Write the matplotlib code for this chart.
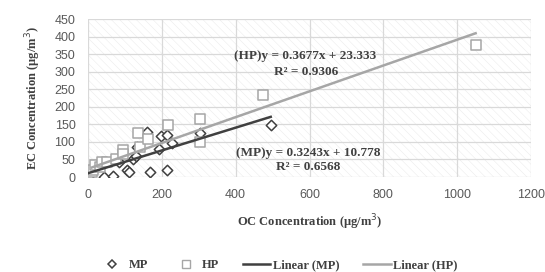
import numpy as np
import matplotlib
matplotlib.use('Agg')
import matplotlib.pyplot as plt
from matplotlib.lines import Line2D
from matplotlib.patches import Rectangle

# MP / HP scatter (OC vs EC, ug/m3)
mp_oc = [1, 43, 69, 105, 112, 85, 123, 130, 132, 159, 168, 191, 199, 213, 215, 227, 303, 495]
mp_ec = [0, 0, 2, 19, 14, 42, 52, 59, 86, 128, 14, 81, 116, 119, 19, 97, 124, 147]
hp_oc = [10, 14, 19, 33, 37, 51, 75, 96, 96, 136, 141, 163, 218, 303, 303, 473, 1050]
hp_ec = [14, 19, 33, 28, 43, 43, 50, 78, 66, 124, 86, 107, 147, 164, 100, 233, 375]

# trendline coefficients (slope, intercept, r2)
mp_fit = [0.3243, 10.778, 0.6568]
hp_fit = [0.3677, 23.333, 0.9306]

xticks = [0, 200, 400, 600, 800, 1000, 1200]
yticks = [0, 50, 100, 150, 200, 250, 300, 350, 400, 450]

dark = '#404040'
light = '#a6a6a6'
serif = ['Liberation Serif', 'DejaVu Serif']

plt.rcParams['hatch.linewidth'] = 0.3

fig = plt.figure(figsize=(5.45, 2.72), dpi=100)
ax = fig.add_axes([88/545, 1-177/272, (531-88)/545, (177-19)/272])

# hatched plot area
ax.add_patch(Rectangle((0, 0), 1, 1, transform=ax.transAxes, facecolor='white',
                       edgecolor='#e6e6e6', hatch='\\\\\\\\', linewidth=0, zorder=0))

ax.set_xlim(0, 1200)
ax.set_ylim(0, 450)
ax.set_xticks(xticks)
ax.set_yticks(yticks)
ax.grid(True, color='#d9d9d9', linewidth=0.9, zorder=1)
ax.set_axisbelow(True)
for s in ax.spines.values():
    s.set_visible(False)
ax.tick_params(length=0, labelsize=9, labelcolor='#595959')
ax.tick_params(axis='y', pad=9)
ax.tick_params(axis='x', pad=9)
for lab in ax.get_xticklabels() + ax.get_yticklabels():
    lab.set_family(['Liberation Sans', 'DejaVu Sans'])

ax.scatter(mp_oc, mp_ec, marker='D', s=28, facecolors='white', edgecolors=dark,
           linewidths=1.1, zorder=3)
ax.scatter(hp_oc, hp_ec, marker='s', s=45, facecolors='white', edgecolors=light,
           linewidths=1.1, zorder=3)

xm = np.array([min(mp_oc), max(mp_oc)])
xh = np.array([min(hp_oc), max(hp_oc)])
ax.plot(xm, mp_fit[0]*xm + mp_fit[1], color=dark, linewidth=1.8, zorder=4)
ax.plot(xh, hp_fit[0]*xh + hp_fit[1], color=light, linewidth=1.8, zorder=4)

tkw = dict(ha='center', va='center', fontsize=9.5, fontweight='bold', color=dark, family=serif)
ax.text(588, 345, '(HP)y = %.4fx + %.3f' % (hp_fit[0], hp_fit[1]), **tkw)
ax.text(590, 300, 'R² = %.4f' % hp_fit[2], **tkw)
ax.text(596, 68, '(MP)y = %.4fx + %.3f' % (mp_fit[0], mp_fit[1]), **tkw)
ax.text(596, 28, 'R² = %.4f' % mp_fit[2], **tkw)

ax.set_xlabel('OC Concentration (μg/m$^3$)', fontsize=9, fontweight='bold', color=dark,
              family=serif, labelpad=8)
ax.set_ylabel('EC Concentration (μg/m$^3$)', fontsize=9, fontweight='bold', color=dark,
              family=serif, labelpad=8)

handles = [
    Line2D([], [], marker='D', ls='none', markersize=4.5, mfc='white', mec=dark, mew=1.1),
    Line2D([], [], marker='s', ls='none', markersize=6, mfc='white', mec=light, mew=1.0),
    Line2D([], [], color=dark, lw=1.8),
    Line2D([], [], color=light, lw=1.8),
]
labels = ['MP', 'HP', 'Linear (MP)', 'Linear (HP)']
leg = fig.legend(handles, labels, loc='center', bbox_to_anchor=(278/545, 1-265/272), ncol=4,
                 frameon=False, handlelength=2.2, handletextpad=0.2, columnspacing=1.9,
                 prop={'family': serif, 'weight': 'bold', 'size': 9})
for t in leg.get_texts():
    t.set_color(dark)

fig.savefig('out.png', dpi=100)
